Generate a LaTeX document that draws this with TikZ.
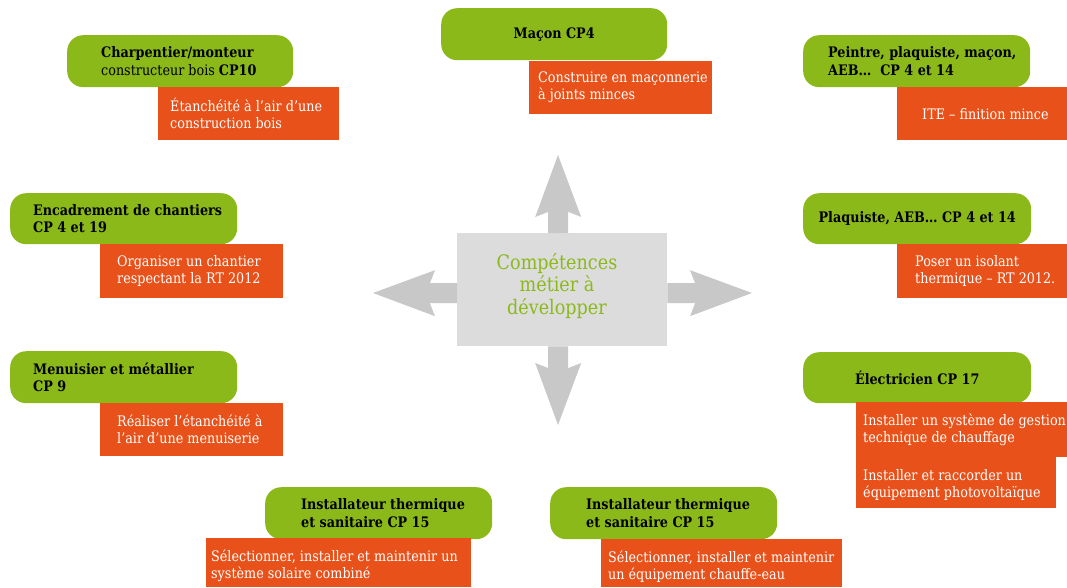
\documentclass[tikz,border=0pt]{standalone}
\usepackage{fontspec}
\setmainfont{DejaVu Serif}[FakeStretch=0.88]
\usetikzlibrary{arrows.meta}
\definecolor{leaf}{HTML}{8BB91A}
\definecolor{brick}{HTML}{E8511A}
\definecolor{panel}{HTML}{DCDCDC}
\definecolor{shaft}{HTML}{C8C8C8}
\begin{document}
\begin{tikzpicture}[x=1pt,y=-1pt,
  gbox/.style={fill=leaf, rounded corners=16pt, anchor=north west, inner sep=0pt, minimum width=226pt, minimum height=52pt},
  obox/.style={fill=brick, anchor=north west, inner sep=0pt},
  ttl/.style={font=\fontsize{14.5}{17.5}\selectfont\bfseries, text=black, align=left, inner sep=0pt},
  txt/.style={font=\fontsize{14.5}{17}\selectfont, text=white, align=left, inner sep=0pt},
  bigarrow/.style={draw=shaft, line width=20pt, -{Stealth[length=62pt, width=46pt, inset=9pt, line width=0pt]}}
]
\useasboundingbox (0,0) rectangle (1067,587);

% central panel and its four arrows
\node[fill=panel, anchor=north west, minimum width=210pt, minimum height=113pt, inner sep=0pt] (c) at (457,233) {};
\node[font=\fontsize{20}{22.5}\selectfont, text=leaf, align=center, inner sep=0pt] (ct) at (557,286) {Compétences\\métier à\\développer};
\coordinate (tipN) at (558,155);
\coordinate (tipS) at (558,425);
\coordinate (tipW) at (373,293);
\coordinate (tipE) at (752,293);
\draw[bigarrow] ([xshift=-4pt]c.north) -- (tipN);
\draw[bigarrow] ([xshift=-4pt]c.south) -- (tipS);
\draw[bigarrow] ([yshift=-3.5pt]c.west) -- (tipW);
\draw[bigarrow] ([yshift=-3.5pt]c.east) -- (tipE);

% top row
\node[gbox] (g1) at (67,35) {};
\node[ttl, anchor=west] (t1) at ([xshift=34pt]g1.west) {Charpentier/monteur\\\mdseries constructeur bois \bfseries CP10};
\node[obox, minimum width=181pt, minimum height=53pt] (o1) at (158,87) {};
\node[txt, anchor=west] (s1) at ([xshift=12pt]o1.west) {Étanchéité à l’air d’une\\construction bois};

\node[gbox] (g2) at (441,8) {};
\node[ttl] (t2) at (g2.center) {Maçon CP4};
\node[obox, minimum width=183pt, minimum height=53pt] (o2) at (529,61) {};
\node[txt, anchor=west] (s2) at ([xshift=9pt]o2.west) {Construire en maçonnerie\\à joints minces};

\node[gbox, minimum width=227pt] (g3) at (803,35) {};
\node[ttl, anchor=west] (t3) at ([xshift=25pt]g3.west) {Peintre, plaquiste, maçon,\\AEB…\ \ CP 4 et 14};
\node[obox, minimum width=170pt, minimum height=53pt] (o3) at (897,87) {};
\node[txt, anchor=west] (s3) at ([xshift=25pt]o3.west) {ITE – finition mince};

% left column
\node[gbox, minimum width=227pt, minimum height=51pt] (g4) at (10,193) {};
\node[ttl, anchor=west] (t4) at ([xshift=23pt]g4.west) {Encadrement de chantiers\\CP 4 et 19};
\node[obox, minimum width=183pt, minimum height=54pt] (o4) at (100,244) {};
\node[txt, anchor=west] (s4) at ([xshift=17pt]o4.west) {Organiser un chantier\\respectant la RT 2012};

\node[gbox, minimum width=227pt] (g5) at (10,351) {};
\node[ttl, anchor=west] (t5) at ([xshift=23pt]g5.west) {Menuisier et métallier\\CP 9};
\node[obox, minimum width=183pt, minimum height=53pt] (o5) at (100,403) {};
\node[txt, anchor=west] (s5) at ([xshift=17pt]o5.west) {Réaliser l’étanchéité à\\l’air d’une menuiserie};

% right column
\node[gbox, minimum width=228pt, minimum height=51pt] (g6) at (803,193) {};
\node[ttl] (t6) at (g6.center) {Plaquiste, AEB… CP 4 et 14};
\node[obox, minimum width=170pt, minimum height=54pt] (o6) at (897,244) {};
\node[txt, anchor=west] (s6) at ([xshift=18pt]o6.west) {Poser un isolant\\thermique – RT 2012.};

\node[gbox, minimum width=228pt, minimum height=51pt] (g7) at (803,352) {};
\node[ttl] (t7) at (g7.center) {Électricien CP 17};
\node[obox, minimum width=211pt, minimum height=55pt] (o7) at (856,402) {};
\node[obox, minimum width=200pt, minimum height=51pt] (o7b) at (856,457) {};
\node[txt, anchor=west] (s7) at ([xshift=7pt]o7.west) {Installer un système de gestion\\technique de chauffage};
\node[txt, anchor=west] (s7b) at ([xshift=7pt, yshift=-2pt]o7b.west) {Installer et raccorder un\\équipement photovoltaïque};

% bottom row
\node[gbox, minimum width=227pt] (g8) at (265,487) {};
\node[ttl, anchor=west] (t8) at ([xshift=36pt]g8.west) {Installateur thermique\\et sanitaire CP 15};
\node[obox, minimum width=265pt, minimum height=49pt] (o8) at (206,538) {};
\node[txt, anchor=west] (s8) at ([xshift=5pt, yshift=-3pt]o8.west) {Sélectionner, installer et maintenir un\\système solaire combiné};

\node[gbox, minimum width=227pt] (g9) at (550,487) {};
\node[ttl, anchor=west] (t9) at ([xshift=36pt]g9.west) {Installateur thermique\\et sanitaire CP 15};
\node[obox, minimum width=241pt, minimum height=48pt] (o9) at (601,539) {};
\node[txt, anchor=west] (s9) at ([xshift=7pt, yshift=-3pt]o9.west) {Sélectionner, installer et maintenir\\un équipement chauffe-eau};
\end{tikzpicture}
\end{document}
